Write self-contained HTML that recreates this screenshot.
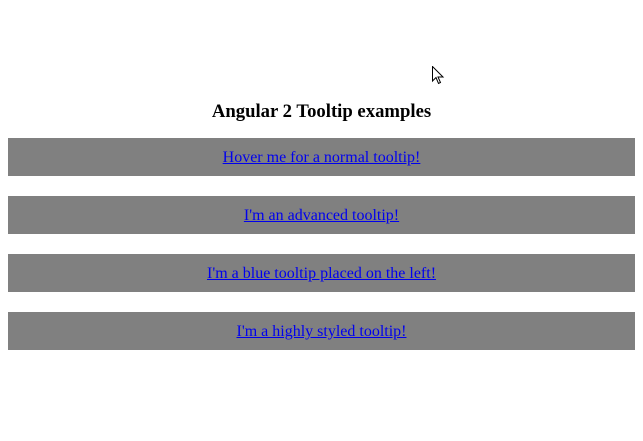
<!DOCTYPE html>
<html><head><style>
html,body{margin:0;padding:0;background:#fff;width:643px;height:441px;overflow:hidden;font-family:"Liberation Serif",serif;}
h3{position:absolute;top:101px;left:0;width:643px;text-align:center;margin:0;font-size:18.7px;font-weight:bold;line-height:22px;color:#000;}
.bar{position:absolute;left:8px;width:627px;height:38px;background:#808080;text-align:center;line-height:40px;font-size:16px;}
.bar a{color:#00e;text-decoration:underline;}
</style></head><body>
<svg style="position:absolute;left:432px;top:66px" width="13" height="20" viewBox="0 0 13 20"><path d="M0.5 0.5 L0.5 15 L4 11.5 L6.5 17.5 L8.5 16.5 L6 11 L11 11 Z" fill="#fff" stroke="#000" stroke-width="1"/></svg>
<h3>Angular 2 Tooltip examples</h3>
<div class="bar" style="top:138px"><a>Hover me for a normal tooltip!</a></div>
<div class="bar" style="top:196px"><a>I'm an advanced tooltip!</a></div>
<div class="bar" style="top:254px"><a>I'm a blue tooltip placed on the left!</a></div>
<div class="bar" style="top:312px"><a>I'm a highly styled tooltip!</a></div>
</body></html>
